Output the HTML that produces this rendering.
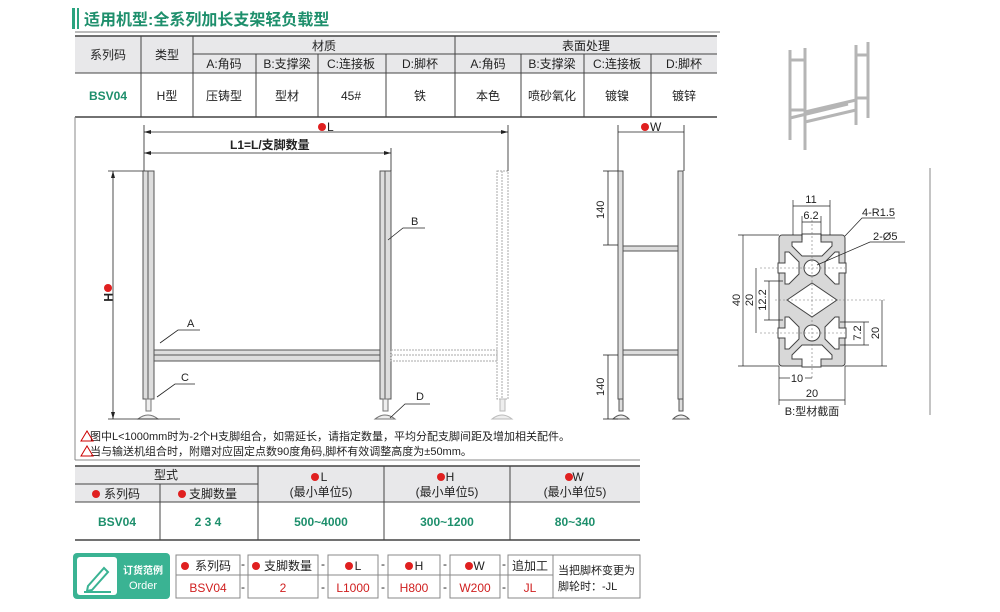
<!DOCTYPE html>
<html><head><meta charset="utf-8"><style>
body{margin:0;background:#fff;width:1000px;height:612px;overflow:hidden}
svg{display:block}
text{font-family:"Liberation Sans","Noto Sans CJK SC",sans-serif;fill:#222}
</style></head><body>
<svg width="1000" height="612" viewBox="0 0 1000 612">
<!-- title -->
<rect x="72" y="8" width="3" height="21" fill="#2aa37f"/><rect x="77" y="8" width="2" height="21" fill="#2aa37f"/>
<text x="84" y="25" font-size="16" font-weight="bold" style="fill:#1e8f6c">适用机型:全系列加长支架轻负载型</text>
<line x1="75" y1="32" x2="720" y2="32" stroke="#bbb" stroke-width="2"/>
<!-- top table -->
<rect x="75" y="36" width="642" height="37" fill="#e8e8ea"/>
<g stroke="#444" stroke-width="1">
<line x1="75" y1="36" x2="717" y2="36" stroke-width="1.5"/>
<line x1="193" y1="54" x2="717" y2="54"/>
<line x1="75" y1="73" x2="717" y2="73"/>
<line x1="75" y1="117" x2="717" y2="117" stroke-width="1.5"/>
<line x1="141" y1="36" x2="141" y2="117"/><line x1="193" y1="36" x2="193" y2="117"/>
<line x1="455" y1="36" x2="455" y2="117"/>
<line x1="256" y1="54" x2="256" y2="117"/><line x1="318" y1="54" x2="318" y2="117"/><line x1="386" y1="54" x2="386" y2="117"/>
<line x1="521" y1="54" x2="521" y2="117"/><line x1="584" y1="54" x2="584" y2="117"/><line x1="651" y1="54" x2="651" y2="117"/>
</g>
<g font-size="12" text-anchor="middle">
<text x="108" y="59">系列码</text><text x="167" y="59">类型</text>
<text x="324" y="50">材质</text><text x="586" y="50">表面处理</text>
<text x="224" y="68">A:角码</text><text x="287" y="68">B:支撑梁</text><text x="351" y="68">C:连接板</text><text x="420" y="68">D:脚杯</text>
<text x="488" y="68">A:角码</text><text x="552" y="68">B:支撑梁</text><text x="617" y="68">C:连接板</text><text x="684" y="68">D:脚杯</text>
<text x="108" y="100" font-weight="bold" style="fill:#1e8f6c">BSV04</text><text x="167" y="100">H型</text>
<text x="224" y="100">压铸型</text><text x="287" y="100">型材</text><text x="351" y="100">45#</text><text x="420" y="100">铁</text>
<text x="488" y="100">本色</text><text x="552" y="100">喷砂氧化</text><text x="617" y="100">镀镍</text><text x="684" y="100">镀锌</text>
</g>
<!-- frame lines -->
<line x1="75" y1="117" x2="75" y2="460" stroke="#888"/>
<line x1="930" y1="168" x2="930" y2="415" stroke="#888"/>
<line x1="75" y1="460" x2="640" y2="460" stroke="#888"/>
<!-- photo -->
<g stroke="#b5b5b5" stroke-width="3" fill="none">
<line x1="790" y1="50" x2="790" y2="140"/><line x1="805" y1="48" x2="805" y2="150"/>
<line x1="856" y1="45" x2="856" y2="125"/><line x1="868" y1="42" x2="868" y2="118"/>
<line x1="790" y1="60" x2="805" y2="60"/><line x1="856" y1="55" x2="868" y2="55"/>
<line x1="790" y1="110" x2="805" y2="110"/><line x1="856" y1="98" x2="868" y2="98"/>
<line x1="805" y1="112" x2="856" y2="100"/><line x1="805" y1="122" x2="856" y2="110"/>
<line x1="790" y1="118" x2="848" y2="104"/>
</g>
<!-- front view -->
<g stroke="#555" stroke-width="1" fill="#ddd">
<rect x="143" y="171" width="11" height="228"/><line x1="148" y1="171" x2="148" y2="399"/>
<rect x="380" y="171" width="11" height="228"/><line x1="385" y1="171" x2="385" y2="399"/>
<rect x="154" y="350" width="226" height="11"/><line x1="154" y1="355" x2="380" y2="355"/>
</g>
<g stroke="#aaa" stroke-width="1" fill="none" stroke-dasharray="2,1">
<rect x="497" y="171" width="11" height="228"/><line x1="502" y1="171" x2="502" y2="399"/>
<rect x="391" y="350" width="106" height="11"/><line x1="391" y1="355" x2="497" y2="355"/>
</g>
<g stroke="#777" fill="#eee">
<path d="M146 399h5v12h-5z"/><path d="M138 419q10-8 20 0z"/>
<path d="M383 399h5v12h-5z"/><path d="M375 419q10-8 20 0z"/>
<path d="M500 399h5v12h-5z" stroke="#bbb"/><path d="M492 419q10-8 20 0z" stroke="#bbb"/>
</g>
<g stroke="#222" stroke-width="0.8" fill="none">
<line x1="144" y1="125" x2="144" y2="171"/><line x1="508" y1="125" x2="508" y2="171"/><line x1="391" y1="148" x2="391" y2="171"/>
<line x1="144" y1="132" x2="508" y2="132"/><line x1="144" y1="153" x2="391" y2="153"/>
<line x1="113" y1="171" x2="113" y2="419"/><line x1="108" y1="171" x2="143" y2="171"/><line x1="108" y1="419" x2="180" y2="419"/>
<polyline points="388,240 403,228 425,228"/><polyline points="160,343 178,330 200,330"/>
<polyline points="157,397 175,384 195,384"/><polyline points="390,418 405,404 430,404"/>
</g>
<g fill="#222"><path d="M144 132l7-2v4zM508 132l-7-2v4zM144 153l7-2v4zM391 153l-7-2v4zM113 171l-2 7h4zM113 419l-2-7h4z"/></g>
<circle cx="322" cy="127" r="4" fill="#e02020"/><text x="327" y="131" font-size="12">L</text>
<text x="230" y="149" font-size="12" font-weight="bold">L1=L/支脚数量</text>
<g transform="translate(104,296) rotate(90)"><circle cx="-8" cy="-4" r="4" fill="#e02020"/><text x="-3" y="0" font-size="12" font-weight="bold">H</text></g>
<g font-size="11"><text x="411" y="225">B</text><text x="187" y="327">A</text><text x="181" y="381">C</text><text x="416" y="400">D</text></g>
<g font-size="11"><text x="90" y="440">图中L&lt;1000mm时为-2个H支脚组合，如需延长，请指定数量，平均分配支脚间距及增加相关配件。</text>
<text x="90" y="455">当与输送机组合时，附赠对应固定点数90度角码,脚杯有效调整高度为±50mm。</text></g>
<g fill="none" stroke="#c00"><path d="M81 441l6-10 6 10z"/><path d="M81 456l6-10 6 10z"/></g>
<!-- side view -->
<g stroke="#555" fill="#ddd">
<rect x="618" y="171" width="5" height="228"/><rect x="678" y="171" width="5" height="228"/>
<rect x="623" y="246" width="55" height="5"/><rect x="623" y="350" width="55" height="5"/>
<path d="M619 399h4v12h-4zM679 399h4v12h-4z"/><path d="M613 419q8-8 16 0zM673 419q8-8 16 0z" fill="#eee"/>
</g>
<g stroke="#222" stroke-width="0.8">
<line x1="618" y1="125" x2="618" y2="171"/><line x1="684" y1="125" x2="684" y2="171"/><line x1="618" y1="132" x2="684" y2="132"/>
<line x1="608" y1="171" x2="608" y2="245"/><line x1="603" y1="171" x2="618" y2="171"/><line x1="603" y1="245" x2="618" y2="245"/>
<line x1="608" y1="355" x2="608" y2="419"/><line x1="603" y1="355" x2="618" y2="355"/><line x1="603" y1="419" x2="618" y2="419"/>
</g>
<circle cx="645" cy="127" r="4" fill="#e02020"/><text x="650" y="131" font-size="12">W</text>
<text x="0" y="0" font-size="11" transform="translate(604,219) rotate(-90)">140</text>
<text x="0" y="0" font-size="11" transform="translate(604,396) rotate(-90)">140</text>
<!-- profile -->
<rect x="779" y="235" width="66" height="131" rx="3" fill="#d8d8d8" stroke="#444"/>
<g fill="#fff" stroke="#444" stroke-width="1">
<path d="M802 234h19v8h11v4l-10 10h-20l-10-10v-4h10z"/>
<path d="M802 367h19v-8h11v-4l-10-10h-20l-10 10v4h10z"/>
<path d="M778 263v10h7v11h4l10-10v-12l-10-10h-4v11z"/>
<path d="M778 328v10h7v11h4l10-10v-12l-10-10h-4v11z"/>
<path d="M846 263v10h-7v11h-4l-10-10v-12l10-10h4v11z"/>
<path d="M846 328v10h-7v11h-4l-10-10v-12l10-10h4v11z"/>
<path d="M787 300l25-17 25 17-25 17z"/>
</g>
<circle cx="812" cy="268" r="8" fill="#fff" stroke="#444"/><circle cx="812" cy="333" r="8" fill="#fff" stroke="#444"/>
<g stroke="#777" stroke-width="0.6" stroke-dasharray="2,2"><line x1="812" y1="220" x2="812" y2="380"/><line x1="760" y1="268" x2="845" y2="268"/><line x1="760" y1="333" x2="845" y2="333"/><line x1="775" y1="300" x2="885" y2="300"/></g>
<g stroke="#222" stroke-width="0.7" fill="none">
<line x1="793" y1="200" x2="793" y2="235"/><line x1="830" y1="200" x2="830" y2="235"/><line x1="793" y1="206" x2="830" y2="206"/>
<line x1="802" y1="216" x2="802" y2="240"/><line x1="821" y1="216" x2="821" y2="240"/><line x1="802" y1="222" x2="821" y2="222"/>
<line x1="738" y1="235" x2="779" y2="235"/><line x1="738" y1="366" x2="779" y2="366"/><line x1="743" y1="235" x2="743" y2="366"/>
<line x1="756" y1="268" x2="756" y2="333"/><line x1="769" y1="281" x2="769" y2="320"/><line x1="764" y1="281" x2="783" y2="281"/><line x1="764" y1="320" x2="783" y2="320"/>
<line x1="845" y1="366" x2="887" y2="366"/><line x1="882" y1="300" x2="882" y2="366"/>
<line x1="864" y1="322" x2="864" y2="345"/><line x1="840" y1="322" x2="869" y2="322"/><line x1="840" y1="345" x2="869" y2="345"/>
<line x1="779" y1="366" x2="779" y2="405"/><line x1="845" y1="366" x2="845" y2="405"/><line x1="779" y1="400" x2="845" y2="400"/>
<line x1="779" y1="378" x2="790" y2="378"/><line x1="805" y1="378" x2="812" y2="378"/>
<polyline points="845,236 862,218 895,218"/><polyline points="817,265 870,242 905,242"/>
</g>
<g font-size="11" text-anchor="middle"><text x="811" y="203">11</text><text x="811" y="219">6.2</text>
<text x="797" y="382">10</text><text x="812" y="397">20</text><text x="812" y="415">B:型材截面</text></g>
<g font-size="11"><text x="862" y="216">4-R1.5</text><text x="873" y="240">2-Ø5</text></g>
<g font-size="11" text-anchor="middle">
<text transform="translate(740,300) rotate(-90)">40</text><text transform="translate(753,300) rotate(-90)">20</text>
<text transform="translate(766,300) rotate(-90)">12.2</text><text transform="translate(861,333) rotate(-90)">7.2</text>
<text transform="translate(879,333) rotate(-90)">20</text></g>
<!-- bottom table -->
<rect x="75" y="466" width="565" height="36" fill="#e8e8ea"/>
<g stroke="#444" stroke-width="1">
<line x1="75" y1="466" x2="640" y2="466" stroke-width="1.5"/><line x1="75" y1="484" x2="258" y2="484"/>
<line x1="75" y1="502" x2="640" y2="502"/><line x1="75" y1="540" x2="640" y2="540" stroke-width="1.5"/>
<line x1="160" y1="484" x2="160" y2="540"/><line x1="258" y1="466" x2="258" y2="540"/><line x1="384" y1="466" x2="384" y2="540"/><line x1="510" y1="466" x2="510" y2="540"/>
</g>
<g font-size="12" text-anchor="middle">
<text x="166" y="479">型式</text><text x="122" y="498">系列码</text><text x="213" y="498">支脚数量</text>
<text x="324" y="481">L</text><text x="321" y="496">(最小单位5)</text>
<text x="450" y="481">H</text><text x="447" y="496">(最小单位5)</text>
<text x="578" y="481">W</text><text x="575" y="496">(最小单位5)</text>
<g font-weight="bold"><text x="117" y="526" style="fill:#1e8f6c">BSV04</text><text x="208" y="526" style="fill:#1e8f6c">2  3  4</text>
<text x="321" y="526" style="fill:#1e8f6c">500~4000</text><text x="447" y="526" style="fill:#1e8f6c">300~1200</text><text x="575" y="526" style="fill:#1e8f6c">80~340</text></g>
</g>
<g fill="#e02020"><circle cx="96" cy="494" r="4"/><circle cx="182" cy="494" r="4"/><circle cx="315" cy="477" r="4"/><circle cx="441" cy="477" r="4"/><circle cx="569" cy="477" r="4"/></g>
<!-- order -->
<rect x="73" y="553" width="97" height="46" rx="4" fill="#3ab393"/>
<rect x="77" y="557" width="40" height="38" rx="3" fill="#fff"/>
<path d="M88 586l16-18 4 4-16 18-5 1z" fill="none" stroke="#3ab393" stroke-width="2"/><line x1="84" y1="592" x2="111" y2="592" stroke="#3ab393" stroke-width="2"/>
<text x="143" y="574" font-size="10" font-weight="bold" text-anchor="middle" style="fill:#fff">订货范例</text>
<text x="143" y="589" font-size="11" text-anchor="middle" style="fill:#fff">Order</text>
<g fill="#fff" stroke="#888">
<rect x="176" y="555" width="64" height="43"/><rect x="248" y="555" width="70" height="43"/><rect x="328" y="555" width="50" height="43"/>
<rect x="388" y="555" width="52" height="43"/><rect x="450" y="555" width="50" height="43"/><rect x="508" y="555" width="45" height="43"/><rect x="553" y="555" width="87" height="43"/>
</g>
<g stroke="#888"><line x1="176" y1="575" x2="553" y2="575"/></g>
<g font-size="12" text-anchor="middle">
<text x="213" y="570">系列码</text><text x="288" y="570">支脚数量</text><text x="358" y="570">L</text><text x="419" y="570">H</text><text x="479" y="570">W</text><text x="530" y="570">追加工</text>
<text x="208" y="592" style="fill:#d02020">BSV04</text><text x="283" y="592" style="fill:#d02020">2</text><text x="353" y="592" style="fill:#d02020">L1000</text><text x="414" y="592" style="fill:#d02020">H800</text><text x="475" y="592" style="fill:#d02020">W200</text><text x="530" y="592" style="fill:#d02020">JL</text>
<text x="243" y="568">-</text><text x="243" y="591">-</text><text x="323" y="568">-</text><text x="323" y="591">-</text><text x="383" y="568">-</text><text x="383" y="591">-</text><text x="445" y="568">-</text><text x="445" y="591">-</text><text x="504" y="568">-</text><text x="504" y="591">-</text>
</g>
<g fill="#e02020"><circle cx="185" cy="566" r="4"/><circle cx="256" cy="566" r="4"/><circle cx="349" cy="566" r="4"/><circle cx="409" cy="566" r="4"/><circle cx="469" cy="566" r="4"/></g>
<text x="558" y="574" font-size="11">当把脚杯变更为</text><text x="558" y="590" font-size="11">脚轮时：-JL</text>
</svg>
</body></html>
